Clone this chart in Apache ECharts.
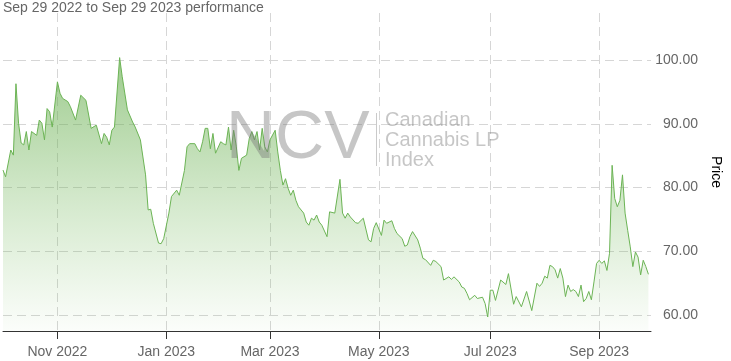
<!DOCTYPE html>
<html>
<head>
<meta charset="utf-8">
<script src="https://cdn.jsdelivr.net/npm/echarts@6/dist/echarts.min.js"></script>
<style>
html,body{margin:0;padding:0;background:#fff;}
#chart{width:731px;height:361px;}
</style>
</head>
<body>
<div id="chart"></div>
<script>
// Trading-day index (0 = left edge of the plot) and closing price
const dayIndex = [0,1,3,4,5,6,7,8,9,10,11,13,14,15,16,17,18,19,21,22,23,25,26,28,30,32,34,36,38,39,40,41,42,43,45,46,48,50,51,53,55,56,57,58,60,61,62,64,65,67,68,70,71,72,74,75,76,77,78,79,80,81,82,84,85,86,87,88,89,90,91,92,94,95,96,97,98,99,100,101,102,103,105,106,107,108,109,110,111,112,113,114,116,117,118,119,120,121,122,123,125,126,128,130,131,132,133,134,136,137,139,141,142,143,144,146,147,148,150,151,152,154,155,156,157,158,160,161,162,163,165,166,167,169,170,172,173,174,176,177,178,179,180,182,183,185,186,187,188,189,190,192,194,195,197,198,200,202,204,206,207,208,209,210,211,212,213,214,215,216,217,218,219,220,221,222,223,224,225,226,227,228,229,230,231,232,233,234,235,236,237,238,239,240,241,242,243,244,245,246,247,248,249];
const price = [82.75,81.7,85.9,85.1,96.3,90.1,87.0,86.7,88.8,85.9,88.8,88.2,90.6,90.1,87.5,92.4,91.9,89.5,96.6,94.8,94.0,93.5,92.7,90.6,94.5,93.7,89.3,89.8,86.9,88.5,87.9,86.7,89.0,89.5,100.4,97.4,92.2,90.3,89.5,87.5,82.0,76.5,76.6,74.4,71.3,71.2,72.0,76.0,78.6,79.6,78.8,82.7,86.4,86.9,86.9,86.1,85.6,87.2,89.3,89.3,86.1,88.5,85.4,87.2,86.9,86.7,89.5,85.9,89.0,86.5,82.7,84.6,85.1,87.7,88.8,87.5,88.8,85.9,89.3,86.4,85.6,87.5,89.0,85.6,82.7,80.4,81.4,79.9,78.8,79.6,78.0,77.0,76.0,74.6,74.1,75.2,74.9,75.7,74.6,74.1,72.3,76.2,76.0,81.3,76.0,75.2,76.0,75.4,74.5,74.4,75.2,71.8,71.5,73.6,74.5,72.5,74.9,74.4,74.8,73.6,72.8,72.0,70.8,71.0,72.3,73.1,71.8,70.5,68.9,68.7,67.8,68.6,68.4,67.6,65.5,66.0,65.6,66.0,65.2,64.4,64.2,63.4,62.4,63.1,62.6,62.8,61.8,59.7,63.9,63.9,62.3,65.5,64.8,66.5,61.7,62.9,61.3,63.7,60.7,65.0,64.5,65.0,66.1,65.8,67.8,67.6,67.1,65.8,67.3,65.8,62.9,64.7,63.7,64.0,63.7,62.9,64.7,62.1,62.6,63.7,62.4,65.2,68.1,68.6,68.1,68.5,67.0,69.7,83.5,78.3,77.0,78.0,82.0,76.0,73.3,70.7,67.6,69.9,69.1,66.3,68.6,67.6,66.4];

// x-axis ticks (trading-day index of first session of the month) and their labels
const tickIndex = [21,63,103,145,188,230];
const tickLabels = ['Nov 2022','Jan 2023','Mar 2023','May 2023','Jul 2023','Sep 2023'];
const dayCount = 251;

// y-axis
const yTicks = [60,70,80,90,100];
const titleText = 'Sep 29 2022 to Sep 29 2023 performance';
const yName = 'Price';

const categories = [];
for (let i = 0; i < dayCount; i++) categories.push(String(i));
const seriesData = dayIndex.map((d, k) => [d, price[k]]);

const FONT = "'Liberation Sans', Arial, Helvetica, sans-serif";
const isTick = (idx) => tickIndex.indexOf(idx) >= 0;
const wm = 'rgba(120,120,120,0.42)';

const chart = echarts.init(document.getElementById('chart'), null, {renderer: 'canvas'});
chart.setOption({
  animation: false,
  backgroundColor: '#ffffff',
  title: {
    text: titleText,
    left: 3, top: 1, padding: 0,
    textStyle: {fontFamily: FONT, fontSize: 14, fontWeight: 'normal', color: '#666666'}
  },
  grid: {left: 3, right: 71, top: 13, bottom: 30, containLabel: false},
  xAxis: {
    type: 'category',
    data: categories,
    boundaryGap: false,
    axisLine: {show: true, lineStyle: {color: '#333333', width: 1}},
    axisTick: {show: true, length: 8, interval: (idx) => isTick(idx), lineStyle: {color: '#333333'}},
    axisLabel: {
      show: true, interval: (idx) => isTick(idx), margin: 14,
      fontFamily: FONT, fontSize: 14, color: '#666666',
      formatter: (v, idx) => { const k = tickIndex.indexOf(Number(v)); return k >= 0 ? tickLabels[k] : ''; }
    },
    splitLine: {show: true, interval: (idx) => isTick(idx), lineStyle: {color: '#d6d6d6', type: [9, 5], width: 1}}
  },
  yAxis: {
    type: 'value',
    position: 'right',
    min: 57.5, max: 107.4,
    splitNumber: 5,
    name: yName,
    nameLocation: 'middle',
    nameRotate: -90,
    nameGap: 58,
    nameTextStyle: {fontFamily: FONT, fontSize: 14, color: '#000000'},
    axisLine: {show: false},
    axisTick: {show: false},
    axisLabel: {
      showMinLabel: false, showMaxLabel: false,
      align: 'right', margin: 47, padding: [0, 0, 5, 0],
      fontFamily: FONT, fontSize: 14, color: '#666666',
      formatter: (v) => yTicks.indexOf(Math.round(v * 100) / 100) >= 0 ? v.toFixed(2) : ''
    },
    splitLine: {show: true, showMinLine: false, showMaxLine: false, lineStyle: {color: '#d6d6d6', type: [9, 5], width: 1}}
  },
  series: [{
    type: 'line',
    data: seriesData,
    symbol: 'none',
    smooth: false,
    lineStyle: {color: '#6cb455', width: 1},
    areaStyle: {
      color: new echarts.graphic.LinearGradient(0, 0, 0, 1, [
        {offset: 0, color: 'rgba(100,172,75,0.9)'},
        {offset: 0.5, color: 'rgba(110,180,85,0.45)'},
        {offset: 1, color: 'rgba(120,190,95,0.04)'}
      ])
    },
    z: 2
  }],
  graphic: [
    {type: 'text', x: 226, y: 139, z: 100, silent: true,
     style: {text: 'NCV', font: "68px " + FONT, fill: wm, verticalAlign: 'middle'}},
    {type: 'line', z: 100, silent: true,
     shape: {x1: 376.5, y1: 113, x2: 376.5, y2: 166}, style: {stroke: 'rgba(150,150,150,0.5)', lineWidth: 1}},
    {type: 'text', x: 385, y: 120.5, z: 100, silent: true,
     style: {text: 'Canadian', font: "20px " + FONT, fill: wm, verticalAlign: 'middle'}},
    {type: 'text', x: 385, y: 140.5, z: 100, silent: true,
     style: {text: 'Cannabis LP', font: "20px " + FONT, fill: wm, verticalAlign: 'middle'}},
    {type: 'text', x: 385, y: 160.5, z: 100, silent: true,
     style: {text: 'Index', font: "20px " + FONT, fill: wm, verticalAlign: 'middle'}}
  ]
});
</script>
</body>
</html>
